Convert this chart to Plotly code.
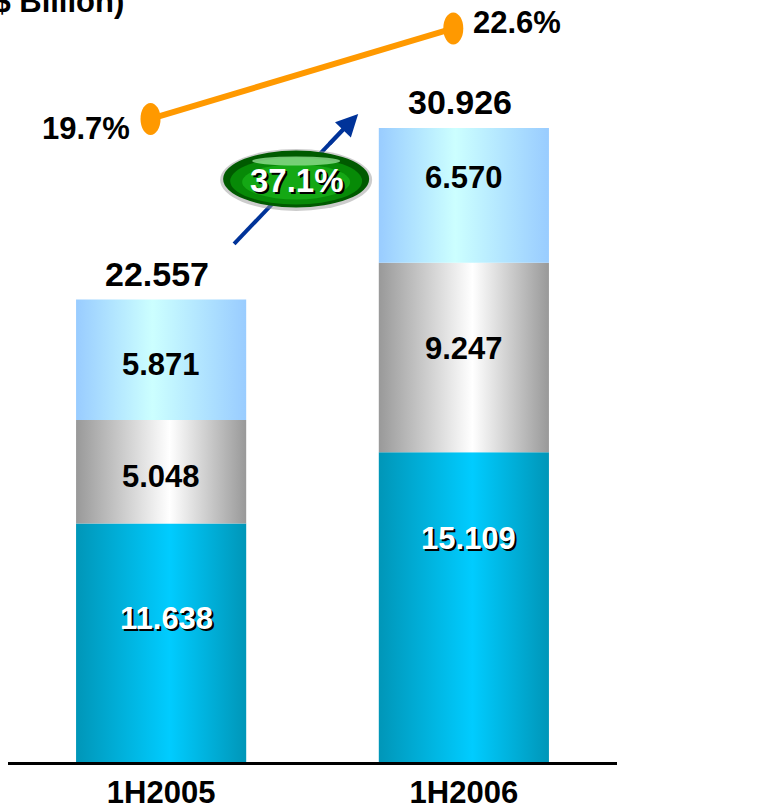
import plotly.graph_objects as go

# ---- data -------------------------------------------------------------
periods = ["1H2005", "1H2006"]
seg_bottom = [11.638, 15.109]   # cyan segment
seg_middle = [5.048, 9.247]     # silver segment
seg_top = [5.871, 6.570]        # light-blue segment
totals = [22.557, 30.926]
ratio_pct = [19.7, 22.6]
growth_label = "37.1%"
unit_title = "(US$ Billion)"

# ---- styling ----------------------------------------------------------
FONT = "Liberation Sans, Arial, sans-serif"
BAR_HALF = 0.281
LINE_DX = -0.035
gradients = {
    "bottom": [[0, "#0096b8"], [0.55, "#00ccff"], [1, "#0096b8"]],
    "middle": [[0, "#999999"], [0.55, "#ffffff"], [1, "#999999"]],
    "top": [[0, "#99ccff"], [0.45, "#ccffff"], [1, "#99ccff"]],
}
# vertical placement of each value label inside its segment (fraction from base)
label_frac = {
    "bottom": [0.60, 0.72],
    "middle": [0.45, 0.55],
    "top": [0.46, 0.63],
}
LABEL_SIZE = 31

fig = go.Figure()

stack = [("bottom", seg_bottom), ("middle", seg_middle), ("top", seg_top)]
base = [0.0, 0.0]
annotations = []
for name, vals in stack:
    for i, v in enumerate(vals):
        x0, x1 = i - BAR_HALF, i + BAR_HALF
        y0, y1 = base[i], base[i] + v
        fig.add_trace(go.Scatter(
            x=[x0, x1, x1, x0, x0], y=[y0, y0, y1, y1, y0],
            mode="lines", line=dict(width=0), fill="toself",
            fillgradient=dict(type="horizontal", colorscale=gradients[name]),
            hoverinfo="skip", showlegend=False,
        ))
        ly = y0 + v * label_frac[name][i]
        txt = f"{v:.3f}"
        if name == "bottom":
            annotations.append(dict(x=i, y=ly, text=txt, showarrow=False, xshift=7, yshift=-2,
                                    font=dict(family=FONT, size=LABEL_SIZE, color="black", weight="bold")))
            annotations.append(dict(x=i, y=ly, text=txt, showarrow=False, xshift=5,
                                    font=dict(family=FONT, size=LABEL_SIZE, color="white", weight="bold")))
        else:
            annotations.append(dict(x=i, y=ly, text=txt, showarrow=False, xshift=0,
                                    font=dict(family=FONT, size=LABEL_SIZE, color="black", weight="bold")))
        base[i] = y1

# totals above the stacks
for i, t in enumerate(totals):
    annotations.append(dict(x=i, y=t, text=f"{t:.3f}", showarrow=False, yanchor="middle",
                            yshift=26, xshift=-4,
                            font=dict(family=FONT, size=34, color="black", weight="bold")))

# ratio line on secondary axis
line_x = [i + LINE_DX for i in range(len(ratio_pct))]
fig.add_trace(go.Scatter(
    x=line_x, y=ratio_pct, yaxis="y2", mode="lines",
    line=dict(color="#ff9900", width=6), hoverinfo="skip", showlegend=False,
))
shapes = []
for x, p in zip(line_x, ratio_pct):
    shapes.append(dict(type="circle", xref="x", yref="y2", xsizemode="pixel", ysizemode="pixel",
                       xanchor=x, yanchor=p, x0=-10, x1=10, y0=-16, y1=16,
                       fillcolor="#ff9900", line=dict(width=0), layer="above"))
annotations.append(dict(x=line_x[0], y=ratio_pct[0], yref="y2", text=f"{ratio_pct[0]}%",
                        showarrow=False, xanchor="right", xshift=-19, yshift=-10,
                        font=dict(family=FONT, size=LABEL_SIZE, color="black", weight="bold")))
annotations.append(dict(x=line_x[1], y=ratio_pct[1], yref="y2", text=f"{ratio_pct[1]}%",
                        showarrow=False, xanchor="left", xshift=18, yshift=6,
                        font=dict(family=FONT, size=LABEL_SIZE, color="black", weight="bold")))

# growth arrow between the two totals, with the badge on it
tail = (0.241, 25.27)
tip = (0.651, 31.61)
head_start = (tip[0] - 0.10, tip[1] - 1.53)
shaft_end = (tip[0] - 0.025, tip[1] - 0.37)
mid = ((tail[0] + tip[0]) / 2, (tail[1] + tip[1]) / 2)
shapes.append(dict(type="line", xref="x", yref="y", x0=tail[0], y0=tail[1],
                   x1=shaft_end[0], y1=shaft_end[1],
                   line=dict(color="#003399", width=4), layer="above"))
annotations.append(dict(x=tip[0], y=tip[1], ax=head_start[0], ay=head_start[1],
                        xref="x", yref="y", axref="x", ayref="y", text="",
                        showarrow=True, arrowhead=2, arrowsize=1.1, arrowwidth=4,
                        arrowcolor="#003399", standoff=0, startstandoff=0))


def badge_ellipse(w, h, color, dy=0, opacity=1.0):
    return dict(type="circle", xref="x", yref="y", xsizemode="pixel", ysizemode="pixel",
                xanchor=mid[0], yanchor=mid[1], x0=-w / 2, x1=w / 2,
                y0=dy - h / 2, y1=dy + h / 2, fillcolor=color, opacity=opacity,
                line=dict(width=0), layer="above")


shapes += [
    badge_ellipse(152, 62, "#9a9a9a", dy=-1, opacity=0.5),
    badge_ellipse(146, 57, "#005a00"),
    badge_ellipse(132, 47, "#078a07", dy=-2),
    badge_ellipse(108, 35, "#14a814", dy=-3),
    badge_ellipse(88, 9, "#9be69b", dy=18, opacity=0.75),
]
annotations.append(dict(x=mid[0], y=mid[1], text=growth_label, showarrow=False, xshift=3, yshift=-4,
                        font=dict(family=FONT, size=33, color="black", weight="bold")))
annotations.append(dict(x=mid[0], y=mid[1], text=growth_label, showarrow=False, xshift=1, yshift=-2,
                        font=dict(family=FONT, size=33, color="white", weight="bold")))

# unit caption, partly above the page edge
annotations.append(dict(xref="paper", yref="paper", x=0.194, y=1, xanchor="right", yanchor="middle",
                        yshift=-1, text=unit_title, showarrow=False,
                        font=dict(family=FONT, size=31, color="black", weight="bold")))

fig.update_layout(
    width=777, height=806,
    margin=dict(l=8, r=160, t=0, b=44, autoexpand=False),
    paper_bgcolor="white", plot_bgcolor="white",
    showlegend=False,
    xaxis=dict(range=[-0.5058, 1.5058], tickmode="array", tickvals=[0, 1], ticktext=periods,
               showgrid=False, zeroline=False, showline=True, linecolor="black", linewidth=3,
               ticks="outside", ticklen=1, tickcolor="rgba(0,0,0,0)", automargin=False,
               tickfont=dict(family=FONT, size=31, color="black", weight="bold")),
    yaxis=dict(range=[0, 37.17], visible=False, automargin=False),
    yaxis2=dict(range=[-0.91, 23.51], overlaying="y", visible=False, automargin=False),
    shapes=shapes,
    annotations=annotations,
)

fig.write_html("out.html")
